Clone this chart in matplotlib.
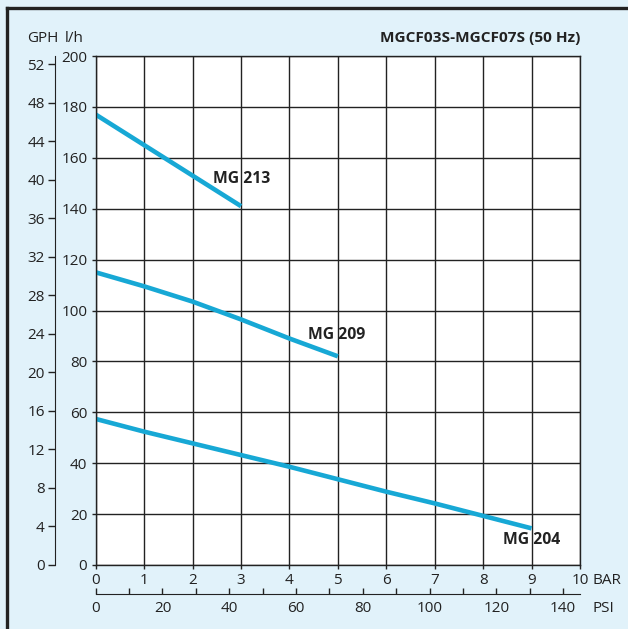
import numpy as np
import matplotlib
matplotlib.use("Agg")
import matplotlib.pyplot as plt
from matplotlib.lines import Line2D

plt.rcParams['font.family'] = ['Open Sans', 'DejaVu Sans']
plt.rcParams['font.size'] = 11

# pressure (bar) vs flow (l/h)
bar_213 = [0, 1, 2, 3]
flow_213 = [177, 165, 153, 141]
bar_209 = [0, 1, 2, 3, 4, 5]
flow_209 = [115, 109.5, 103.5, 96.5, 89, 82]
bar_204 = [0, 1, 2, 3, 4, 5, 6, 7, 8, 9]
flow_204 = [57.4, 52.4, 47.8, 43.2, 38.6, 33.7, 28.8, 24.2, 19.3, 14.4]

BG = '#e1f2fa'
BLUE = '#17a8d5'
INK = '#222222'
W, H = 628, 629

fig = plt.figure(figsize=(W / 100, H / 100), dpi=100, facecolor=BG)

def fx(px):
    return px / W

def fy(py):
    return 1 - py / H

ax = fig.add_axes([fx(95.7), fy(565), fx(580) - fx(95.7), fy(56) - fy(565)])
ax.set_facecolor('white')

for b, f, lab, pos in [(bar_213, flow_213, 'MG 213', (3.01, 151.7)),
                       (bar_209, flow_209, 'MG 209', (4.98, 90.4)),
                       (bar_204, flow_204, 'MG 204', (9.0, 9.8))]:
    ax.plot(b, f, color=BLUE, lw=3.3, solid_capstyle='butt')
    ax.text(pos[0], pos[1], lab, ha='center', va='center', fontweight='bold',
            fontsize=11.3, color=INK)

ax.set_xlim(0, 10)
ax.set_ylim(0, 200)
ax.set_xticks(range(0, 11))
ax.set_yticks(range(0, 201, 20))
ax.grid(True, color=INK, lw=1.0)
for s in ax.spines.values():
    s.set_color(INK)
    s.set_linewidth(1.0)
ax.tick_params(axis='both', length=3, width=1, color=INK, labelcolor=INK)
ax.tick_params(axis='x', pad=3)
ax.tick_params(axis='y', pad=3)

# GPH axis
gph = ax.secondary_yaxis((54.5 - 95.7) / (580 - 95.7),
                         functions=(lambda v: v / 3.785, lambda v: v * 3.785))
gph.set_yticks(range(0, 53, 4))
gph.spines['left'].set_color(INK)
gph.tick_params(length=5, width=1, color=INK, labelcolor=INK, pad=2)

# PSI axis
psi = ax.secondary_xaxis(-(594 - 565) / (565 - 56),
                         functions=(lambda v: v * 14.5038, lambda v: v / 14.5038))
psi.set_xticks(range(0, 141, 20))
psi.set_xticks(range(0, 141, 10), minor=True)
psi.spines['bottom'].set_color(INK)
psi.tick_params(which='both', direction='in', length=4, width=1, color=INK,
                labelcolor=INK, pad=5)

fig.text(fx(27), fy(38), 'GPH', ha='left', va='center', color=INK)
fig.text(fx(65), fy(38), 'l/h', ha='left', va='center', color=INK)
fig.text(fx(580), fy(38), 'MGCF03S-MGCF07S (50 Hz)', ha='right', va='center',
         fontweight='bold', fontsize=11.1, color=INK)
fig.text(fx(592), fy(580), 'BAR', ha='left', va='center', color=INK)
fig.text(fx(592), fy(608), 'PSI', ha='left', va='center', color=INK)

# dark frame on top and left
fig.add_artist(Line2D([fx(6.5), 1], [fy(7.5), fy(7.5)], transform=fig.transFigure,
                      color=INK, lw=2.4))
fig.add_artist(Line2D([fx(6.5), fx(6.5)], [0, fy(7.5)], transform=fig.transFigure,
                      color=INK, lw=2.4))

fig.savefig('out.png', dpi=100, facecolor=BG)
